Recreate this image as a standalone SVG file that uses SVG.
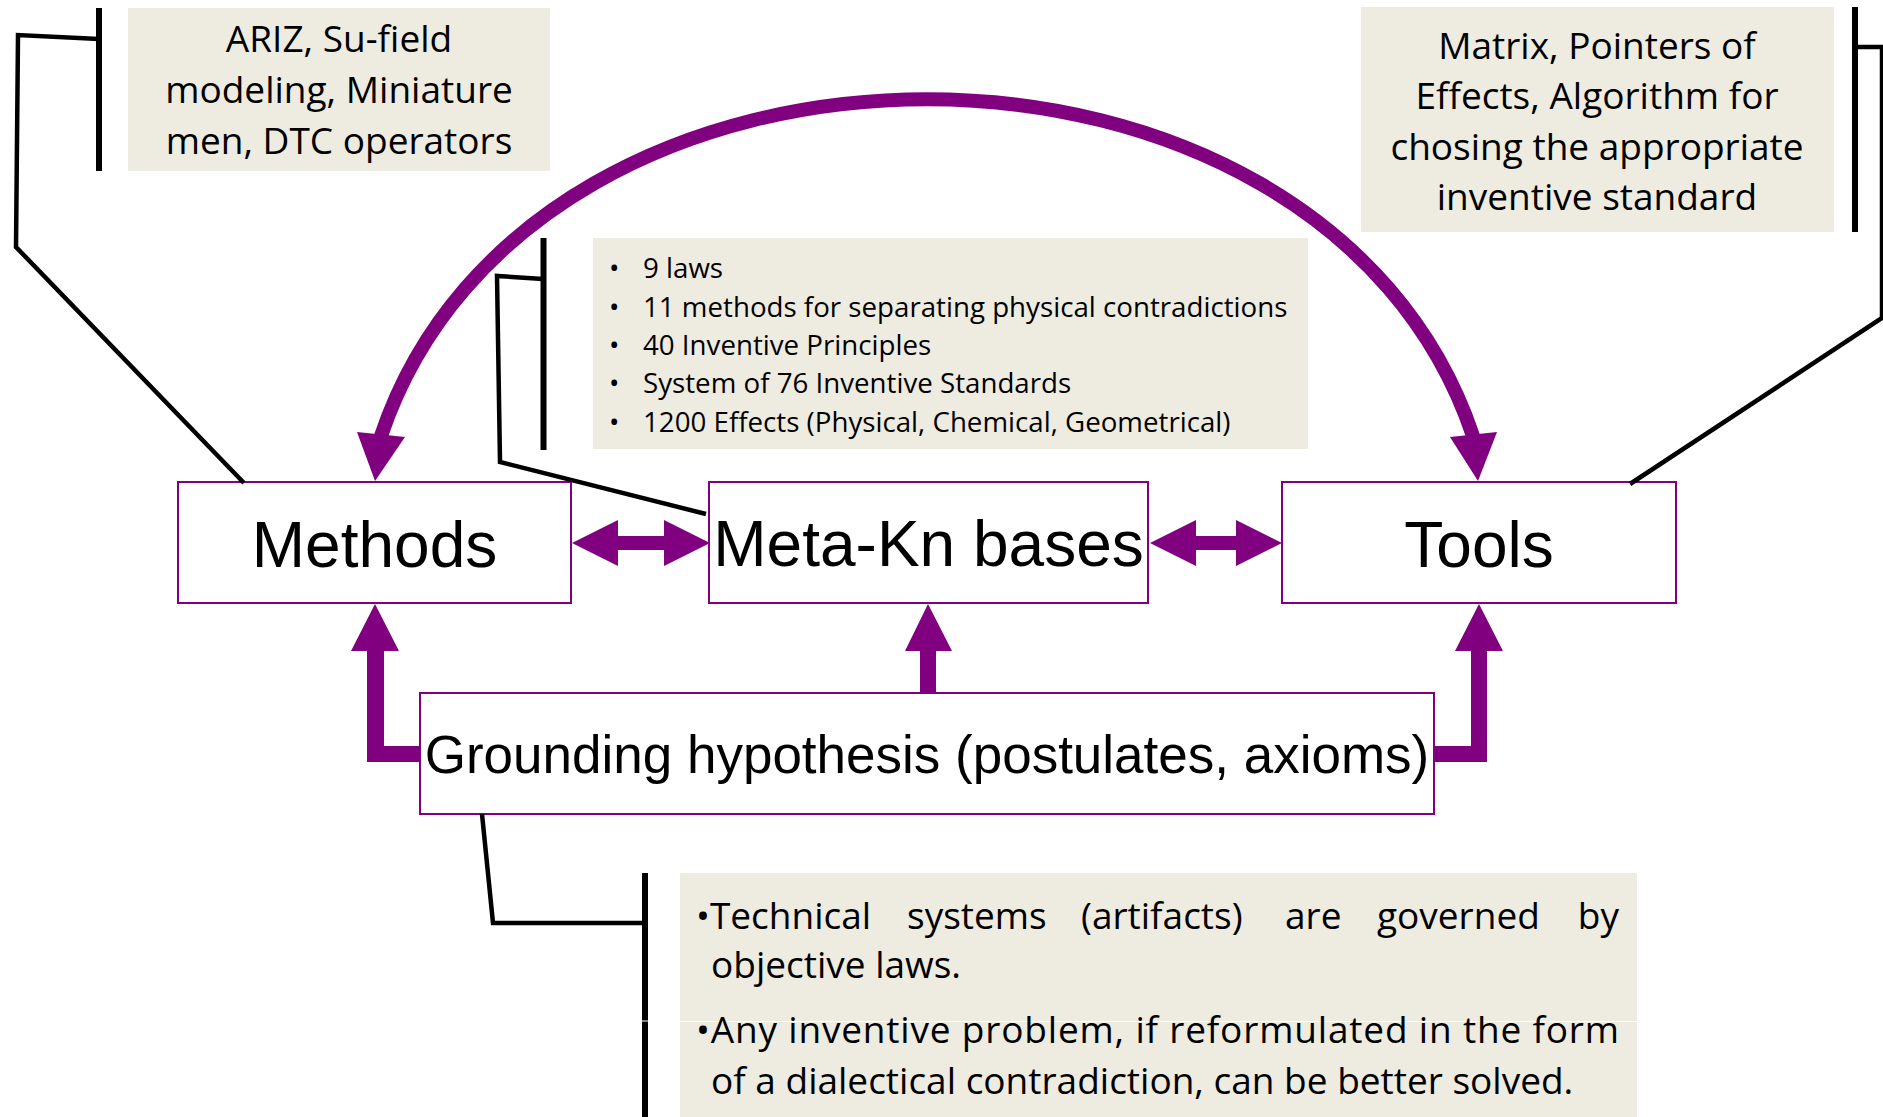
<svg xmlns="http://www.w3.org/2000/svg" width="1883" height="1117" viewBox="0 0 1883 1117">
  <style>
    .note { fill: #EEECE1; }
    .box { fill: #FFFFFF; stroke: #800080; stroke-width: 2; }
    .lbl { font-family: "Liberation Sans", Arial, sans-serif; font-size: 64px; fill: #000; text-anchor: middle; }
    .nt { font-family: "Open Sans", "Liberation Sans", sans-serif; font-size: 37px; fill: #000; text-anchor: middle; }
    .kb { font-family: "Open Sans", "Liberation Sans", sans-serif; font-size: 27.7px; fill: #000; }
    .ax { font-family: "Open Sans", "Liberation Sans", sans-serif; font-size: 37px; fill: #000; }
    .callout { fill: none; stroke: #000; stroke-width: 4.5; stroke-linejoin: miter; }
    .bar { fill: none; stroke: #000; stroke-width: 6; }
    .flow { fill: #800080; }
    .arc { fill: none; stroke: #800080; stroke-width: 14; }
  </style>

  <!-- note boxes -->
  <g id="note-ariz">
    <rect class="note" x="128" y="8" width="422" height="163"/>
    <text class="nt" x="339" y="52">ARIZ, Su-field</text>
    <text class="nt" x="339" y="103">modeling, Miniature</text>
    <text class="nt" x="339" y="154">men, DTC operators</text>
  </g>

  <g id="note-knowledge">
    <rect class="note" x="593" y="238" width="715" height="211"/>
    <text class="kb" y="278"><tspan x="609">•</tspan><tspan x="643">9 laws</tspan></text>
    <text class="kb" y="317"><tspan x="609">•</tspan><tspan x="643">11 methods for separating physical contradictions</tspan></text>
    <text class="kb" y="355"><tspan x="609">•</tspan><tspan x="643">40 Inventive Principles</tspan></text>
    <text class="kb" y="393"><tspan x="609">•</tspan><tspan x="643">System of 76 Inventive Standards</tspan></text>
    <text class="kb" y="432"><tspan x="609">•</tspan><tspan x="643">1200 Effects (Physical, Chemical, Geometrical)</tspan></text>
  </g>

  <g id="note-matrix">
    <rect class="note" x="1361" y="7" width="473" height="225"/>
    <text class="nt" x="1597" y="59">Matrix, Pointers of</text>
    <text class="nt" x="1597" y="109">Effects, Algorithm for</text>
    <text class="nt" x="1597" y="160">chosing the appropriate</text>
    <text class="nt" x="1597" y="210">inventive standard</text>
  </g>

  <g id="note-axioms">
    <rect class="note" x="680" y="873" width="957" height="148"/>
    <rect class="note" x="680" y="1022" width="957" height="95"/>
    <text class="ax" y="929"><tspan x="696">•Technical</tspan><tspan x="907">systems</tspan><tspan x="1081">(artifacts)</tspan><tspan x="1285">are</tspan><tspan x="1377">governed</tspan><tspan x="1619" text-anchor="end">by</tspan></text>
    <text class="ax" x="711" y="978">objective laws.</text>
    <text class="ax" x="696" y="1043" textLength="923" lengthAdjust="spacing">•Any inventive problem, if reformulated in the form</text>
    <text class="ax" x="711" y="1094">of a dialectical contradiction, can be better solved.</text>
  </g>

  <!-- main nodes -->
  <g id="methods">
    <rect class="box" x="178" y="482" width="393" height="121"/>
    <text class="lbl" x="374.5" y="567">Methods</text>
  </g>
  <g id="meta-kn-bases">
    <rect class="box" x="709" y="482" width="439" height="121"/>
    <text class="lbl" x="928.5" y="566">Meta-Kn bases</text>
  </g>
  <g id="tools">
    <rect class="box" x="1282" y="482" width="394" height="121"/>
    <text class="lbl" x="1479" y="567">Tools</text>
  </g>
  <g id="grounding">
    <rect class="box" x="420" y="693" width="1014" height="121"/>
    <text class="lbl" x="927" y="773" style="font-size:53px">Grounding hypothesis (postulates, axioms)</text>
  </g>

  <!-- connectors -->
  <g id="connectors">
    <!-- arc between Methods and Tools, arrowheads at both ends -->
    <path class="arc" d="M 381 436 C 532 -13, 1322 -13, 1473 436"/>
    <polygon class="flow" points="357,432 405,437 375,481"/>
    <polygon class="flow" points="1450,437 1497,432 1478,481"/>

    <!-- double arrows on the middle row -->
    <polygon class="flow" points="572,543 618,520 618,536 664,536 664,520 710,543 664,566 664,550 618,550 618,566"/>
    <polygon class="flow" points="1150,543 1196,520 1196,536 1236,536 1236,520 1282,543 1236,566 1236,550 1196,550 1196,566"/>

    <!-- arrows from the grounding hypothesis -->
    <polygon class="flow" points="375,604 399,651 384,651 384,746 420,746 420,762 367,762 367,651 351,651"/>
    <polygon class="flow" points="928,604 952,651 936,651 936,693 920,693 920,651 905,651"/>
    <polygon class="flow" points="1479,604 1503,651 1487,651 1487,762 1434,762 1434,746 1471,746 1471,651 1455,651"/>

    <!-- callout brackets -->
    <line class="bar" x1="99" y1="8" x2="99" y2="171"/>
    <polyline class="callout" points="99,39 18,35 16,247 244,483"/>

    <line class="bar" x1="543.5" y1="238" x2="543.5" y2="450"/>
    <polyline class="callout" points="543,279 497,276 500,462 706,514"/>

    <line class="bar" x1="1855" y1="7" x2="1855" y2="232"/>
    <polyline class="callout" points="1855,47 1882,47 1882,318 1630,484"/>

    <line class="bar" x1="645" y1="873" x2="645" y2="1020.5"/>
    <line class="bar" x1="645" y1="1021.5" x2="645" y2="1117"/>
    <polyline class="callout" points="482,814 493,923 645,923"/>
  </g>
</svg>
